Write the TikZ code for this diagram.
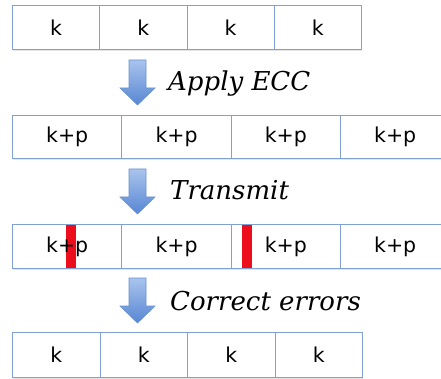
\documentclass[tikz,border=0pt]{standalone}
\usepackage{fontspec}
\newfontfamily\boxfont{DejaVu Sans}
\newfontfamily\capfont{DejaVu Serif}
\definecolor{boxline}{HTML}{7FA1D3}
\definecolor{errred}{HTML}{EC0E1C}
\definecolor{arrtop}{HTML}{A9C4ED}
\definecolor{arrbot}{HTML}{5786D3}
\definecolor{arredge}{HTML}{6A92D1}
\begin{document}
\begin{tikzpicture}[x=1pt,y=-1pt,
  cell/.style={draw=boxline, line width=1.1pt, fill=white, inner sep=0pt, anchor=north west},
  lbl/.style={inner sep=0pt, font=\boxfont\fontsize{20.5}{24}\selectfont},
  captext/.style={anchor=base west, inner sep=0pt, font=\capfont\itshape\fontsize{26}{30}\selectfont},
  rowshadow/.style={fill=black!10},
  errbar/.style={fill=errred},
  blockarrow/.style={top color=arrtop, bottom color=arrbot, draw=arredge, line width=0.6pt},
  downarrow/.pic={\shadedraw[blockarrow] (-8.5,0) -- (8.5,0) -- (8.5,28) -- (17.5,28) -- (0,45) -- (-17.5,28) -- (-8.5,28) -- cycle;}]
\fill[white] (0,0) rectangle (441,379);
\clip (0,0) rectangle (441,379);
% row 1
\fill[rowshadow] (13,7) rectangle (362,51);
\foreach \i/\n in {0/a,1/b,2/c,3/d}
  \node[cell, minimum width=87.25pt, minimum height=44pt] (r1\n) at ({12+87.25*\i},5) {};
\foreach \n in {a,b,c,d} \node[lbl] (l1\n) at (r1\n) {k};
% arrow 1
\pic at (137.5,60) {downarrow};
\node[captext] (c1) at (168,91) {Apply ECC};
% row 2
\fill[rowshadow] (13,117) rectangle (460,160);
\foreach \i/\n in {0/a,1/b,2/c,3/d}
  \node[cell, minimum width=109.33pt, minimum height=43pt] (r2\n) at ({12+109.33*\i},115) {};
\foreach \n in {a,b,c,d} \node[lbl] (l2\n) at (r2\n) {k+p};
% arrow 2
\pic at (137.5,169) {downarrow};
\node[captext] (c2) at (170,200) {Transmit};
% row 3
\fill[rowshadow] (13,226) rectangle (460,270);
\foreach \i/\n in {0/a,1/b,2/c,3/d}
  \node[cell, minimum width=109.33pt, minimum height=44pt] (r3\n) at ({12+109.33*\i},224) {};
\fill[errbar] (66,225) rectangle (76,267.5);
\fill[errbar] (242,225) rectangle (252,267.5);
\foreach \n in {a,b,c,d} \node[lbl] (l3\n) at (r3\n) {k+p};
% arrow 3
\pic at (137.5,278) {downarrow};
\node[captext] (c3) at (170,310) {Correct errors};
% row 4
\fill[rowshadow] (13,334) rectangle (363,379);
\foreach \i/\n in {0/a,1/b,2/c,3/d}
  \node[cell, minimum width=87.5pt, minimum height=45pt] (r4\n) at ({12+87.5*\i},332) {};
\foreach \n in {a,b,c,d} \node[lbl] (l4\n) at (r4\n) {k};
\end{tikzpicture}
\end{document}
